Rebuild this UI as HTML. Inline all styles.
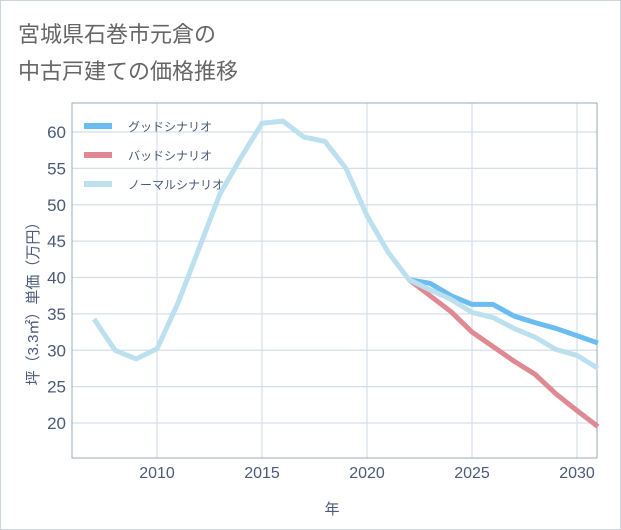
<!DOCTYPE html>
<html><head><meta charset="utf-8"><style>
body{margin:0;background:#fff;}
svg{display:block;font-family:"Liberation Sans","Noto Sans CJK JP",sans-serif;}
</style></head><body>
<svg width="621" height="530">
<rect x="0.5" y="0.5" width="620" height="529" fill="#fff" stroke="#ccd4de"/>
<text x="18" y="42" font-size="22" fill="#666">宮城県石巻市元倉の</text>
<text x="18" y="79" font-size="22" fill="#666">中古戸建ての価格推移</text>
<g id="grid"></g>
<rect x="72" y="103" width="525" height="355" fill="none" stroke="#9aa8b8"/>
<g id="ticks"></g>
<g id="series"></g>
<text x="332" y="514" font-size="15" fill="#4a5a78" text-anchor="middle">年</text>
<text transform="translate(38,300) rotate(-90)" font-size="15" fill="#4a5a78" text-anchor="middle">坪（3.3㎡）単価（万円）</text>
<g>
<line x1="84" y1="126" x2="112" y2="126" stroke="#6bbcf0" stroke-width="6"/>
<text x="128" y="131" font-size="12" fill="#4a5a78">グッドシナリオ</text>
<line x1="84" y1="155" x2="112" y2="155" stroke="#df8a93" stroke-width="6"/>
<text x="128" y="160" font-size="12" fill="#4a5a78">バッドシナリオ</text>
<line x1="84" y1="184" x2="112" y2="184" stroke="#bde0ee" stroke-width="6"/>
<text x="128" y="189" font-size="12" fill="#4a5a78">ノーマルシナリオ</text>
</g>
</svg>
<script>
const normalYears=[2007,2008,2009,2010,2011,2012,2013,2014,2015,2016,2017,2018,2019,2020,2021,2022,2023,2024,2025,2026,2027,2028,2029,2030,2031];
const normalValues=[34.3,30,28.8,30.2,36.5,44,51.5,56.5,61.2,61.5,59.3,58.7,55,48.5,43.5,39.7,38.3,37,35.2,34.5,33,31.8,30.1,29.3,27.5];
const forecastYears=[2022,2023,2024,2025,2026,2027,2028,2029,2030,2031];
const goodValues=[39.7,39.2,37.5,36.3,36.3,34.7,33.8,33.0,32.0,31.0];
const badValues=[39.7,37.5,35.3,32.5,30.5,28.5,26.7,24,21.7,19.5];
const yTicks=[20,25,30,35,40,45,50,55,60];
const xTicks=[2010,2015,2020,2025,2030];
const NS='http://www.w3.org/2000/svg';
const X=y=>157+(y-2010)*21;
const Y=v=>132+(60-v)*7.275;
const grid=document.getElementById('grid'),ticks=document.getElementById('ticks'),series=document.getElementById('series');
function mk(t,a){const e=document.createElementNS(NS,t);for(const k in a)e.setAttribute(k,a[k]);return e;}
yTicks.forEach(v=>{
const l=mk('line',{x1:72,x2:597,y1:Y(v),y2:Y(v),stroke:'#d5dfe9','stroke-width':1.2});


grid.appendChild(l);
const t=mk('text',{x:66,y:Y(v)+6,'font-size':17,fill:'#4a5a78','text-anchor':'end'});


t.textContent=v;ticks.appendChild(t);
});
xTicks.forEach(v=>{
const l=mk('line',{x1:X(v),x2:X(v),y1:103,y2:458,stroke:'#d5dfe9','stroke-width':1.2});


grid.appendChild(l);
const t=mk('text',{x:X(v),y:478,'font-size':16,fill:'#4a5a78','text-anchor':'middle'});


t.textContent=v;ticks.appendChild(t);
});
function line(xs,vs,color,name){
const p=mk('polyline',{points:xs.map((x,i)=>X(x)+','+Y(vs[i])).join(' '),fill:'none',stroke:color,'stroke-width':5,'stroke-linejoin':'round'});


series.appendChild(p);
}
line(forecastYears,goodValues,'#6bbcf0','good-scenario-line');
line(forecastYears,badValues,'#df8a93','bad-scenario-line');
line(normalYears,normalValues,'#bde0ee','normal-scenario-line');
</script>
</body></html>
